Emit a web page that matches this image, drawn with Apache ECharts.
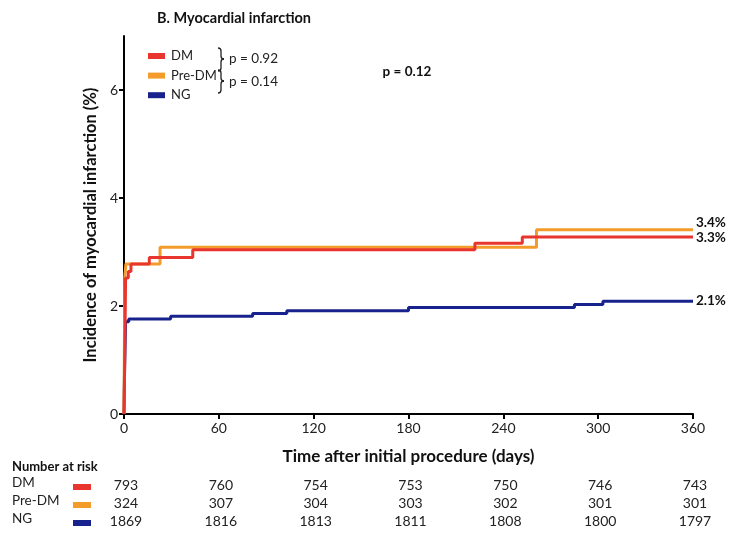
<!DOCTYPE html>
<html>
<head>
<meta charset="utf-8">
<script src="https://cdn.jsdelivr.net/npm/echarts@6/dist/echarts.min.js"></script>
<style>
html,body{margin:0;padding:0;background:#fff;}
#main{width:730px;height:533px;}
</style>
</head>
<body>
<div id="main"></div>
<script>
// ---- data ----
var groupNames = ['DM', 'Pre-DM', 'NG'];
var dmCurve = [[0,0],[0.3,0.6],[1,2.52],[2.7,2.64],[4.4,2.78],[16,2.9],[43.5,3.04],[222,3.16],[252,3.28],[360,3.28]];
var preDmCurve = [[0,0],[0.5,2.55],[1.2,2.78],[22.8,3.09],[261,3.41],[360,3.41]];
var ngCurve = [[0,0],[0.3,0.72],[1,1.71],[3,1.76],[29.5,1.81],[81.4,1.86],[103,1.91],[180,1.97],[285,2.03],[303,2.09],[360,2.09]];
var endLabels = ['3.3%', '3.4%', '2.1%'];
var riskTimes = [0, 60, 120, 180, 240, 300, 360];
var riskDM = [793, 760, 754, 753, 750, 746, 743];
var riskPreDM = [324, 307, 304, 303, 302, 301, 301];
var riskNG = [1869, 1816, 1813, 1811, 1808, 1800, 1797];
var pairP = ['p = 0.92', 'p = 0.14'];
var overallP = 'p = 0.12';

var colors = ['#e8352d', '#f39c2c', '#18228c'];
var FONT = 'Lato, "Open Sans", sans-serif';

var chart = echarts.init(document.getElementById('main'), null, {renderer: 'canvas'});

function mkSeries(name, data, color, label, offY) {
  return {
    name: name, type: 'line', step: 'end', data: data,
    showSymbol: false, symbol: 'none',
    lineStyle: {color: color, width: 3},
    itemStyle: {color: color},
    emphasis: {disabled: true},
    endLabel: {show: true, formatter: label, color: '#111', fontWeight: 'bold',
      fontSize: 13.5, fontFamily: FONT, distance: 3, offset: [0, offY]},
    animation: false
  };
}

var option = {
  animation: false,
  title: {text: 'B. Myocardial infarction', left: 229, top: 6, textAlign: 'center',
    textStyle: {fontSize: 14.5, fontWeight: 'bold', color: '#111', fontFamily: FONT}},
  grid: {left: 124, right: 37, top: 36, bottom: 119, containLabel: false},
  legend: {
    data: groupNames, orient: 'vertical', left: 143, top: 44,
    icon: 'rect', itemWidth: 17, itemHeight: 6, itemGap: 5.6,
    textStyle: {fontSize: 13, color: '#222', fontFamily: FONT, lineHeight: 14, padding: [0,0,0,1]},
    selectedMode: false
  },
  xAxis: {
    type: 'value', min: 0, max: 360, interval: 60,
    name: 'Time after initial procedure (days)', nameLocation: 'middle', nameGap: 34,
    nameTextStyle: {fontSize: 17, fontWeight: 'bold', color: '#111', fontFamily: FONT},
    axisLine: {show: true, lineStyle: {color: '#000', width: 2}},
    axisTick: {show: true, length: 5, lineStyle: {color: '#000', width: 2}},
    axisLabel: {fontSize: 14, color: '#222', margin: 7, fontFamily: FONT},
    splitLine: {show: false}
  },
  yAxis: {
    type: 'value', min: 0, max: 7, interval: 2,
    name: 'Incidence of myocardial infarction (%)', nameLocation: 'middle', nameGap: 18,
    nameRotate: 90,
    nameTextStyle: {fontSize: 16.5, fontWeight: 'bold', color: '#111', fontFamily: FONT},
    axisLine: {show: true, lineStyle: {color: '#000', width: 2}},
    axisTick: {show: true, length: 5, lineStyle: {color: '#000', width: 2}},
    axisLabel: {fontSize: 14, color: '#222', margin: 6, fontFamily: FONT, showMaxLabel: false},
    splitLine: {show: false}
  },
  series: [
    mkSeries('NG', ngCurve, colors[2], endLabels[2], 0),
    mkSeries('Pre-DM', preDmCurve, colors[1], endLabels[1], -7),
    mkSeries('DM', dmCurve, colors[0], endLabels[0], 1)
  ]
};
option.legend.data = groupNames.map(function (n, i) {
  return {name: n, itemStyle: {color: colors[i]}};
});
chart.setOption(option);

// ---- annotations & risk table ----
var g = [];
var txt = function (x, y, s, opt) {
  opt = opt || {};
  g.push({type: 'text', x: x, y: y, silent: true, style: {
    text: s, fill: opt.fill || '#111', fontSize: opt.size || 13,
    fontWeight: opt.bold ? 'bold' : 'normal', fontFamily: opt.family || FONT,
    align: opt.align || 'left', verticalAlign: 'middle'}});
};
var braceStyle = {fill: null, stroke: '#222', lineWidth: 1.3};
function curve(x1, y1, cx, cy, x2, y2) {
  g.push({type: 'bezierCurve', silent: true,
    shape: {x1: x1, y1: y1, x2: x2, y2: y2, cpx1: cx, cpy1: cy}, style: braceStyle});
}
function seg(x1, y1, x2, y2) {
  g.push({type: 'line', silent: true, shape: {x1: x1, y1: y1, x2: x2, y2: y2}, style: braceStyle});
}
function brace(x, top, mid, bottom) {
  var r = 3;
  curve(x, top, x + r, top, x + r, top + r);
  seg(x + r, top + r, x + r, mid - r);
  curve(x + r, mid - r, x + r, mid, x + 2 * r, mid);
  curve(x + 2 * r, mid, x + r, mid, x + r, mid + r);
  seg(x + r, mid + r, x + r, bottom - r);
  curve(x + r, bottom - r, x + r, bottom, x, bottom);
}
brace(218, 48, 59, 71);
brace(218, 70, 81, 93);
txt(229, 59, pairP[0], {size: 13.5, fill: '#222'});
txt(229, 82, pairP[1], {size: 13.5, fill: '#222'});
txt(407, 72, overallP, {size: 13.5, bold: true, align: 'center'});

// risk table
txt(12, 467, 'Number at risk', {size: 13, bold: true});
var rows = [riskDM, riskPreDM, riskNG];
var rowY = [483, 501, 519];
for (var r = 0; r < 3; r++) {
  txt(12, rowY[r], groupNames[r], {size: 13.5, fill: '#222'});
  g.push({type: 'rect', silent: true, shape: {x: 73, y: rowY[r] + 1, width: 18, height: 6},
    style: {fill: colors[r]}});
  for (var c = 0; c < riskTimes.length; c++) {
    var px = chart.convertToPixel({xAxisIndex: 0}, riskTimes[c]);
    txt(px + 2, rowY[r] + 2, String(rows[r][c]), {size: 14, fill: '#222', align: 'center'});
  }
}
chart.setOption({graphic: g});
</script>
</body>
</html>
